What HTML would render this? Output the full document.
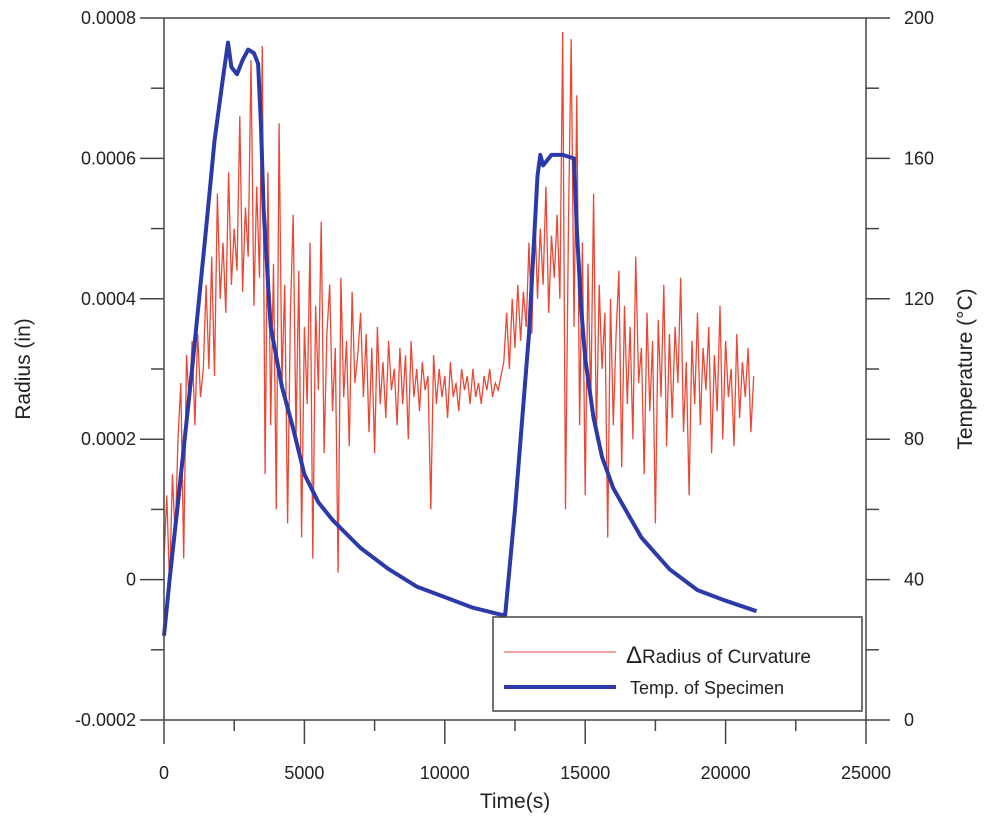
<!DOCTYPE html>
<html><head><meta charset="utf-8"><style>
body{margin:0;background:#fff}
svg text{font-family:"Liberation Sans",Arial,sans-serif;fill:#222}
</style></head><body>
<svg id="c" width="984" height="825" viewBox="0 0 984 825"></svg>
<script>
const xTicks=[0,5000,10000,15000,20000,25000];
const yTicks=[-0.0002,0,0.0002,0.0004,0.0006,0.0008];
const yTickLabels=["-0.0002","0","0.0002","0.0004","0.0006","0.0008"];
const y2Ticks=[0,40,80,120,160,200];
const radiusStep=100;
const radiusVals=[0.3,1.2,-0.1,1.5,0.6,2.0,
2.8,0.3,3.2,2.5,3.4,2.2,3.5,2.6,3.0,
4.2,3.0,4.6,2.9,5.5,4.0,4.8,3.8,5.8,4.2,5.0,4.4,6.6,4.1,5.3,4.6,7.4,3.9,5.6,4.3,7.6,
1.5,5.8,2.2,4.5,1.0,6.5,2.8,4.2,0.8,3.8,5.2,2.0,4.4,0.6,3.6,2.5,4.8,0.3,3.9,2.7,5.1,1.8,3.5,4.2,2.4,3.3,0.1,4.3,2.6,3.4,1.9,4.1,2.8,3.2,3.8,
2.6,3.5,2.1,3.3,1.8,3.6,2.5,3.1,2.3,3.4,2.7,3.0,2.2,3.3,2.5,3.2,2.0,3.4,2.6,3.0,2.4,3.1,2.7,2.9,1.0,3.2,2.5,3.0,2.6,2.9,2.3,3.1,2.6,2.8,2.4,3.0,2.7,2.9,2.5,3.0,2.6,2.8,2.5,2.9,2.7,3.0,2.6,2.8,2.7,2.9,
3.1,3.8,3.0,4.0,3.3,4.2,3.4,4.1,3.6,
4.8,3.5,5.3,4.0,5.0,4.2,5.6,3.8,4.9,4.3,5.2,4.0,7.8,1.0,5.0,7.7,3.6,6.9,2.2,4.8,
1.2,4.5,2.5,5.5,2.0,4.2,3.0,3.8,0.6,4.0,2.2,3.5,4.4,1.6,3.9,2.5,3.6,2.0,4.6,2.8,3.3,1.5,3.8,2.4,3.4,0.8,3.7,2.6,4.2,1.9,3.5,2.3,3.6,2.8,4.3,2.1,3.1,1.2,3.4,2.5,3.8,2.2,3.3,2.7,3.6,1.8,3.2,2.4,3.9,2.0,3.4,2.6,3.0,1.9,3.5,2.3,3.1,2.6,3.3,2.1,2.9];
const tempTimes=[0,200,500,1000,1500,1800,2100,2280,2400,2600,2800,3000,3200,3350,3450,3550,3700,3800,4200,4600,5000,5500,6000,7000,8000,9000,10000,11000,12000,12150,12500,13000,13300,13400,13500,13800,14200,14600,14700,14850,15000,15300,15600,16000,17000,18000,19000,20000,21100];
const tempVals=[24,40,62,100,140,165,183,193,186,184,188,191,190,187,170,145,125,112,95,83,70,62,57,49,43,38,35,32,30,30,60,110,155,161,158,161,161,160,140,118,103,86,75,66,52,43,37,34,31];

const L=164,R=866,T=18,B=720;
const X=v=>L+(v/25000)*(R-L);
const Y=v=>B-((v+0.0002)/0.001)*(B-T);
const Y2=v=>B-(v/200)*(B-T);
const svg=document.getElementById('c');const NS='http://www.w3.org/2000/svg';
function mk(tag,a,p){const e=document.createElementNS(NS,tag);for(const k in a)e.setAttribute(k,a[k]);(p||svg).appendChild(e);return e;}

let d='';radiusVals.forEach((v,i)=>{d+=(i?'L':'M')+X(i*radiusStep).toFixed(1)+','+Y(v*1e-4).toFixed(1);});
const red=mk('path',{d:d,fill:'none',stroke:'#e8331f','stroke-width':1.3,'stroke-opacity':0.9});


let d2='';tempVals.forEach((v,i)=>{d2+=(i?'L':'M')+X(tempTimes[i]).toFixed(1)+','+Y2(v).toFixed(1);});
const blue=mk('path',{d:d2,fill:'none',stroke:'#2b3aa8','stroke-width':4,'stroke-linejoin':'round'});



const ax=mk('g',{stroke:'#444','stroke-width':1.5});


mk('line',{x1:L,y1:T,x2:R,y2:T},ax);mk('line',{x1:L,y1:T,x2:L,y2:B},ax);
mk('line',{x1:L,y1:B,x2:R,y2:B},ax);mk('line',{x1:R,y1:T,x2:R,y2:B+1},ax);
xTicks.forEach((v,i)=>{mk('line',{x1:X(v),y1:B,x2:X(v),y2:B+24},ax);
 if(i<xTicks.length-1)mk('line',{x1:X(v+2500),y1:B,x2:X(v+2500),y2:B+11},ax);
 const t=mk('text',{x:X(v),y:779,'text-anchor':'middle','font-size':18});t.textContent=v;
 
 });
yTicks.forEach((v,i)=>{mk('line',{x1:L-24,y1:Y(v),x2:L,y2:Y(v)},ax);
 if(i<yTicks.length-1)mk('line',{x1:L-13,y1:Y(v+0.0001),x2:L,y2:Y(v+0.0001)},ax);
 const t=mk('text',{x:136,y:Y(v)+6,'text-anchor':'end','font-size':18});t.textContent=yTickLabels[i];
 
 });
y2Ticks.forEach((v,i)=>{mk('line',{x1:R,y1:Y2(v),x2:R+24,y2:Y2(v)},ax);
 if(i<y2Ticks.length-1)mk('line',{x1:R,y1:Y2(v+20),x2:R+13,y2:Y2(v+20)},ax);
 const t=mk('text',{x:904,y:Y2(v)+6,'text-anchor':'start','font-size':18});t.textContent=v;
 
 });
</script>
<svg width="984" height="825" style="position:absolute;left:0;top:0">
<text x="515" y="808" text-anchor="middle" font-size="21">Time(s)</text>
<text transform="translate(30,369) rotate(-90)" text-anchor="middle" font-size="21">Radius (in)</text>
<text transform="translate(972,369) rotate(-90)" text-anchor="middle" font-size="21">Temperature (°C)</text>
<g>
<rect x="493" y="617" width="369" height="94" fill="#fff" stroke="#444" stroke-width="1.5"/>
<line x1="504" y1="652" x2="616" y2="652" stroke="#f08080" stroke-width="1.5"/>
<text x="626" y="663" font-size="19"><tspan font-size="24">Δ</tspan>Radius of Curvature</text>
<line x1="504" y1="687" x2="616" y2="687" stroke="#2b3aa8" stroke-width="4"/>
<text x="630" y="694" font-size="18">Temp. of Specimen</text>
</g>
</svg>
</body></html>
